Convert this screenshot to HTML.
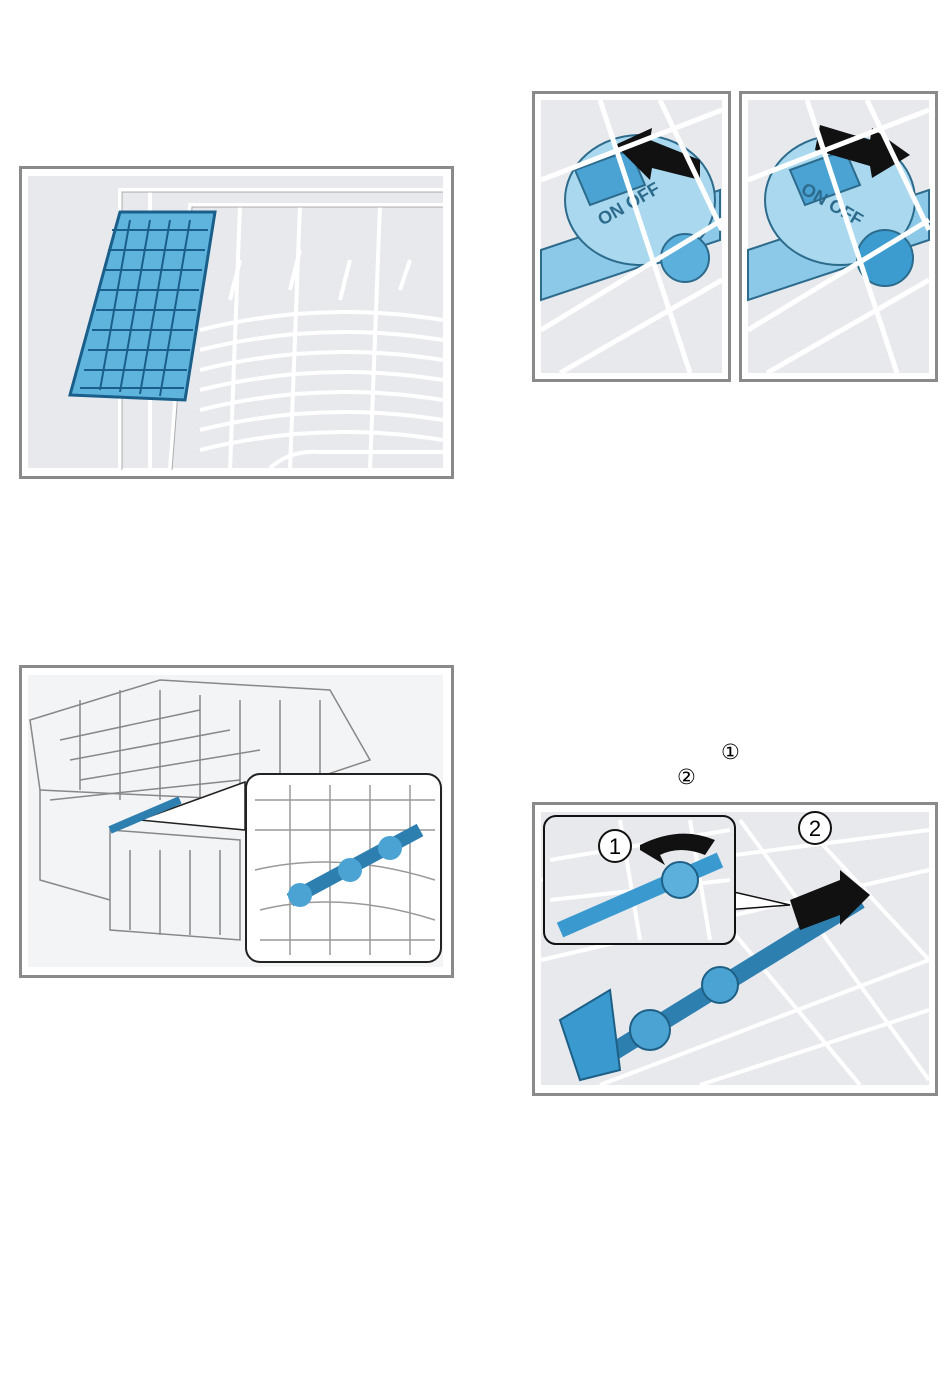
<!DOCTYPE html>
<html><head><meta charset="utf-8"><style>
html,body{margin:0;padding:0;background:#fff;}
body{width:950px;height:1392px;position:relative;overflow:hidden;font-family:"Liberation Sans","DejaVu Sans",sans-serif;}
.box{position:absolute;border:3px solid #8a8a8a;background:#fff;box-sizing:border-box;}
.in{position:absolute;background:#e7e9ed;}
svg{position:absolute;left:0;top:0;}
.num{position:absolute;font-size:21px;line-height:21px;color:#000;font-family:"DejaVu Sans",sans-serif;}
</style></head><body>

<div class="box" style="left:19px;top:166px;width:435px;height:313px;"></div>
<div class="in" style="left:28px;top:176px;width:415px;height:292px;"></div>
<svg width="950" height="1392" viewBox="0 0 950 1392">
<g stroke="#fff" stroke-width="4" fill="none">
<path d="M120 470 V190 H443"/><path d="M150 470 V190"/>
<path d="M170 470 L190 205 H443"/><path d="M230 470 L240 205"/><path d="M290 470 L300 205"/><path d="M370 470 L380 205"/>
<path d="M200 330 Q320 300 443 320"/><path d="M200 350 Q320 320 443 340"/><path d="M200 370 Q320 340 443 360"/><path d="M200 390 Q320 360 443 380"/><path d="M200 410 Q320 380 443 400"/><path d="M200 430 Q320 400 443 420"/><path d="M200 450 Q320 420 443 440"/>
<path d="M230 300 L240 260 M290 290 L300 250 M340 300 L350 260 M400 290 L410 260"/>
<path d="M270 468 Q290 450 320 452 H443"/>
</g>
<g stroke="#666" stroke-width="1" fill="none" opacity="0.5">
<path d="M122 470 V192 H443"/><path d="M172 470 L192 207 H443"/>
</g>
<polygon points="120,212 215,212 185,400 70,395" fill="#5fb4dd" stroke="#1a5f8a" stroke-width="3"/>
<g stroke="#1a5f8a" stroke-width="2">
<path d="M112 230 H208 M108 250 H205 M104 270 H202 M100 290 H199 M96 310 H196 M92 330 H193 M88 350 H190 M84 370 H187 M80 388 H184"/>
<path d="M130 220 L100 390 M150 220 L120 392 M170 220 L140 394 M190 220 L160 396"/>
</g>
</svg>

<div class="box" style="left:19px;top:665px;width:435px;height:313px;"></div>
<div class="in" style="left:28px;top:675px;width:415px;height:292px;background:#f3f4f6"></div>
<svg width="950" height="1392" viewBox="0 0 950 1392">
<g stroke="#888" stroke-width="1.5" fill="none">
<path d="M30 720 L160 680 L330 690 L370 760 L250 800 L40 790 Z"/>
<path d="M40 790 L40 880 L110 900"/><path d="M110 830 L240 840 L240 940 L110 930 Z"/>
<path d="M60 740 L200 710 M70 760 L230 730 M80 780 L260 750 M50 800 L240 780"/>
<path d="M80 700 L80 790 M120 690 L120 800 M160 690 L160 800 M200 695 L200 800 M240 700 L240 800 M280 700 L280 790 M320 700 L320 780"/>
<path d="M130 850 L130 930 M160 850 L160 935 M190 850 L190 935 M220 850 L220 935"/>
</g>
<path d="M140 820 L245 782 L245 830 Z" fill="#fff" stroke="#222" stroke-width="1.5"/>
<rect x="246" y="774" width="195" height="188" rx="14" fill="#fff" stroke="#222" stroke-width="2"/>
<g stroke="#999" stroke-width="1.5" fill="none">
<path d="M255 800 H435 M255 830 H435 M255 870 Q340 850 435 880 M260 910 Q340 890 435 920 M260 940 H435"/>
<path d="M290 785 V955 M330 785 V955 M370 785 V955 M410 785 V955"/>
</g>
<path d="M290 900 L420 830" stroke="#2d7fb0" stroke-width="14"/>
<circle cx="300" cy="895" r="12" fill="#4ba3d3"/><circle cx="350" cy="870" r="12" fill="#4ba3d3"/><circle cx="390" cy="848" r="12" fill="#4ba3d3"/>
<path d="M110 830 L180 800" stroke="#2d7fb0" stroke-width="8"/>
</svg>

<div class="box" style="left:532px;top:91px;width:199px;height:291px;"></div>
<div class="in" style="left:541px;top:100px;width:181px;height:273px;"></div>
<div class="box" style="left:739px;top:91px;width:199px;height:291px;"></div>
<div class="in" style="left:748px;top:100px;width:181px;height:273px;"></div>
<svg width="950" height="1392" viewBox="0 0 950 1392">
<g>
<path d="M541 250 L720 190 L720 240 L541 300 Z" fill="#8cc9e8" stroke="#2d6b8c" stroke-width="2"/>
<ellipse cx="640" cy="200" rx="75" ry="65" fill="#a9d8ef" stroke="#2d6b8c" stroke-width="2"/>
<circle cx="685" cy="258" r="24" fill="#5cb0dc" stroke="#2d6b8c" stroke-width="2"/>
<path d="M575 170 L630 150 L645 185 L590 205 Z" fill="#4ba3d3" stroke="#2d6b8c" stroke-width="2"/>
<text x="598" y="210" font-size="18" font-weight="bold" fill="#2d6b8c" transform="rotate(-30 630 210)">ON OFF</text>
<path d="M700 160 L650 140 L652 128 L615 145 L650 180 L652 168 L700 180 Z" fill="#111"/>
<g stroke="#fff" stroke-width="5" fill="none"><path d="M541 330 L722 220 M560 373 L722 280 M600 100 L690 373 M541 180 L722 110 M660 100 L722 230"/></g>
</g>
<g>
<path d="M748 250 L929 190 L929 240 L748 300 Z" fill="#8cc9e8" stroke="#2d6b8c" stroke-width="2"/>
<ellipse cx="840" cy="200" rx="75" ry="65" fill="#a9d8ef" stroke="#2d6b8c" stroke-width="2"/>
<circle cx="885" cy="258" r="28" fill="#3c9ccf" stroke="#2d6b8c" stroke-width="2"/>
<path d="M790 170 L845 150 L860 185 L805 205 Z" fill="#4ba3d3" stroke="#2d6b8c" stroke-width="2"/>
<text x="795" y="210" font-size="18" font-weight="bold" fill="#2d6b8c" transform="rotate(30 830 210)">ON OFF</text>
<path d="M820 125 L870 140 L872 128 L910 155 L872 178 L870 166 L815 150 Z" fill="#111"/>
<g stroke="#fff" stroke-width="5" fill="none"><path d="M748 330 L929 220 M767 373 L929 280 M807 100 L897 373 M748 180 L929 110 M867 100 L929 230"/></g>
</g>
</svg>

<div class="num" style="left:721px;top:742px;">&#9312;</div>
<div class="num" style="left:677px;top:767px;">&#9313;</div>

<div class="box" style="left:532px;top:802px;width:406px;height:294px;"></div>
<div class="in" style="left:541px;top:812px;width:388px;height:273px;"></div>
<svg width="950" height="1392" viewBox="0 0 950 1392">
<g stroke="#fff" stroke-width="4" fill="none">
<path d="M541 880 L929 830 M541 960 L929 870 M600 1085 L929 960 M700 1085 L929 1010 M740 820 L929 1080 M640 820 L860 1085 M800 820 L929 960"/>
</g>
<path d="M600 1060 L860 900" stroke="#2d7fb0" stroke-width="18"/>
<circle cx="650" cy="1030" r="20" fill="#4ba3d3" stroke="#1e5f85" stroke-width="2"/>
<circle cx="720" cy="985" r="18" fill="#4ba3d3" stroke="#1e5f85" stroke-width="2"/>
<path d="M560 1020 L610 990 L620 1070 L580 1080 Z" fill="#3a9ad0" stroke="#1e5f85" stroke-width="2"/>
<path d="M790 900 L840 880 L840 870 L870 895 L840 925 L840 915 L800 930 Z" fill="#111"/>
<circle cx="815" cy="828" r="16" fill="#fff" stroke="#111" stroke-width="2"/>
<text x="815" y="836" font-size="22" text-anchor="middle">2</text>
<path d="M725 890 L790 905 L725 910 Z" fill="#fff" stroke="#111" stroke-width="1.5"/>
<rect x="544" y="816" width="191" height="128" rx="12" fill="#e7e9ed" stroke="#111" stroke-width="2"/>
<g stroke="#fff" stroke-width="4" fill="none"><path d="M550 860 L730 830 M550 900 L730 880 M620 820 L640 940 M690 820 L710 940"/></g>
<path d="M560 930 L720 860" stroke="#3a9ad0" stroke-width="16"/>
<circle cx="680" cy="880" r="18" fill="#5cb0dc" stroke="#1e5f85" stroke-width="2"/>
<path d="M640 845 Q680 825 715 840 L705 855 Q680 845 660 855 L665 865 L640 850 Z" fill="#111"/>
<circle cx="615" cy="846" r="16" fill="#fff" stroke="#111" stroke-width="2"/>
<text x="615" y="854" font-size="22" text-anchor="middle">1</text>
</svg>

</body></html>
